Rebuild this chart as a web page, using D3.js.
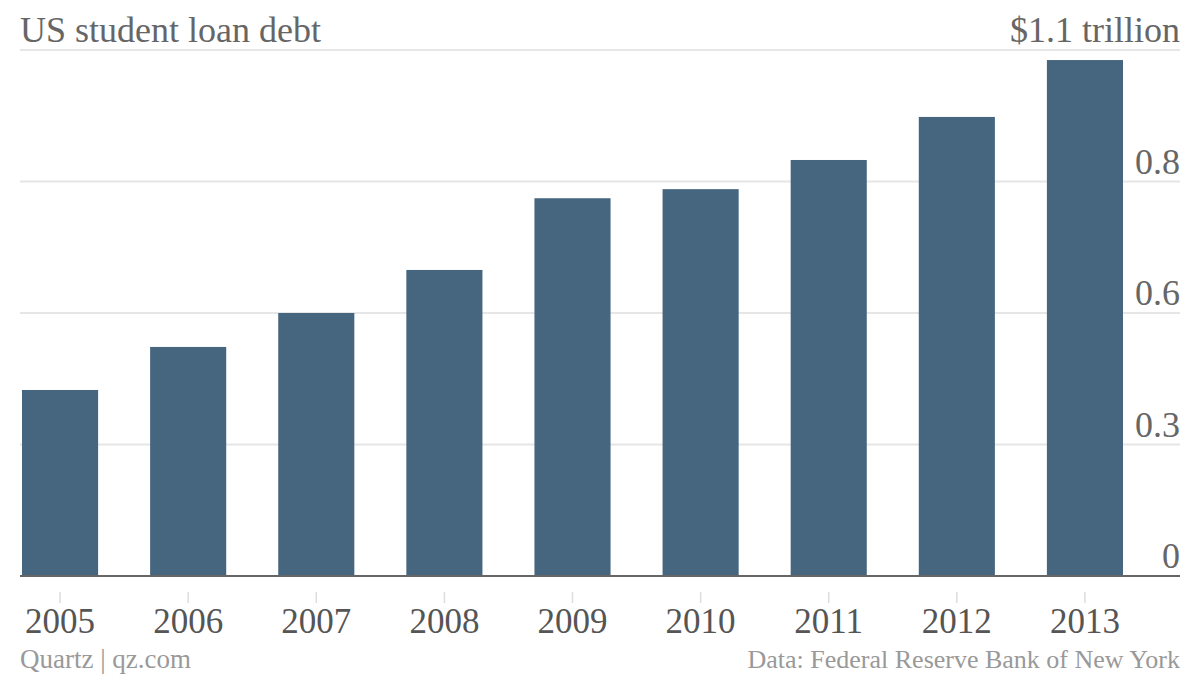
<!DOCTYPE html>
<html><head><meta charset="utf-8">
<script src="https://cdn.jsdelivr.net/npm/d3@7"></script>
<style>body{margin:0;background:#fff}svg{display:block}</style>
</head><body>
<script>
const years = ["2005","2006","2007","2008","2009","2010","2011","2012","2013"];
const debt = [0.389, 0.479, 0.550, 0.640, 0.790, 0.809, 0.870, 0.960, 1.079];
const tickValues = [0, 0.275, 0.55, 0.825, 1.1];
const tickLabels = ["0", "0.3", "0.6", "0.8", "$1.1 trillion"];
const title = "US student loan debt";
const sourceLeft = "Quartz | qz.com";
const sourceRight = "Data: Federal Reserve Bank of New York";

const W = 1200, H = 676;
const font = "'Liberation Serif', serif";
const svg = d3.select("body").append("svg").attr("width", W).attr("height", H);

const x = d3.scaleBand().domain(years).range([-4, 1149]).paddingInner(0.406).paddingOuter(0.203);
const y = d3.scaleLinear().domain([0, 1.1]).range([576, 50]);

// gridlines
svg.append("g").selectAll("line").data(tickValues.slice(1)).join("line")
  .attr("x1", 20).attr("x2", 1180)
  .attr("y1", d => y(d)).attr("y2", d => y(d))
  .attr("stroke", "#e6e6e6").attr("stroke-width", 2);

// bars
svg.append("g").selectAll("rect").data(years).join("rect")
  .attr("x", d => x(d)).attr("width", x.bandwidth())
  .attr("y", (d, i) => y(debt[i])).attr("height", (d, i) => y(0) - y(debt[i]))
  .attr("fill", "#46657f");

// baseline
svg.append("line").attr("x1", 20).attr("x2", 1180).attr("y1", y(0)).attr("y2", y(0))
  .attr("stroke", "#666").attr("stroke-width", 2);

// y labels
svg.append("g").selectAll("text").data(tickValues).join("text")
  .attr("x", 1180).attr("y", d => y(d) - 8)
  .attr("text-anchor", "end").attr("font-family", font).attr("font-size", 36)
  .attr("fill", "#666").text((d, i) => tickLabels[i]);

// x ticks + labels
const xg = svg.append("g");
xg.selectAll("line").data(years).join("line")
  .attr("x1", d => x(d) + x.bandwidth() / 2).attr("x2", d => x(d) + x.bandwidth() / 2)
  .attr("y1", 592).attr("y2", 603).attr("stroke", "#ddd").attr("stroke-width", 1.5);
xg.selectAll("text").data(years).join("text")
  .attr("x", d => x(d) + x.bandwidth() / 2).attr("y", 633)
  .attr("text-anchor", "middle").attr("font-family", font).attr("font-size", 35)
  .attr("fill", "#555").text(d => d);

// title
svg.append("text").attr("x", 20).attr("y", 42).attr("font-family", font).attr("font-size", 36)
  .attr("fill", "#666").text(title);

// footer
svg.append("text").attr("x", 20).attr("y", 668).attr("font-family", font).attr("font-size", 27)
  .attr("fill", "#999").text(sourceLeft);
svg.append("text").attr("x", 1180).attr("y", 668).attr("text-anchor", "end").attr("font-family", font).attr("font-size", 26)
  .attr("fill", "#999").text(sourceRight);
</script>
</body></html>
